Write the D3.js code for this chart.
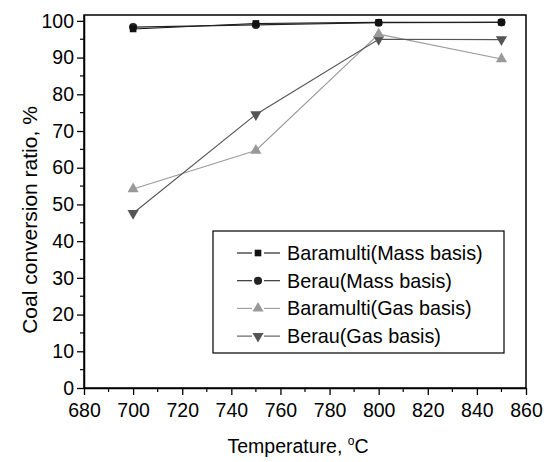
<!DOCTYPE html>
<html>
<head>
<meta charset="utf-8">
<script src="https://cdn.jsdelivr.net/npm/d3@7"></script>
<style>
  body { margin: 0; background: #fff; }
  svg { font-family: "Liberation Sans", Arial, sans-serif; }
</style>
</head>
<body>
<svg id="chart" width="554" height="462"></svg>
<script>
// data
const temps = [700, 750, 800, 850];
const baramultiMass = [97.8, 99.3, 99.6, 99.6];
const berauMass = [98.3, 98.9, 99.5, 99.6];
const baramultiGas = [54.2, 64.7, 96.4, 89.6];
const berauGas = [47.6, 74.5, 95.0, 94.9];
const xTicks = [680, 700, 720, 740, 760, 780, 800, 820, 840, 860];
const yTicks = [0, 10, 20, 30, 40, 50, 60, 70, 80, 90, 100];

const series = [
    { name: "Baramulti(Mass basis)", values: baramultiMass, color: "#111", symbol: d3.symbolSquare, size: 44, rot: 0 },
    { name: "Berau(Mass basis)", values: berauMass, color: "#222", symbol: d3.symbolCircle, size: 52, rot: 0 },
    { name: "Baramulti(Gas basis)", values: baramultiGas, color: "#999", symbol: d3.symbolTriangle, size: 54, rot: 0 },
    { name: "Berau(Gas basis)", values: berauGas, color: "#555", symbol: d3.symbolTriangle, size: 54, rot: 180 }
];

const margin = { top: 15, right: 28, bottom: 74, left: 84 };
const width = 554 - margin.left - margin.right;
const height = 462 - margin.top - margin.bottom;

const svg = d3.select("#chart")
    .append("g")
    .attr("transform", `translate(${margin.left},${margin.top})`);

const x = d3.scaleLinear().domain([680, 860]).range([0, width]);
const y = d3.scaleLinear().domain([0, 101.6]).range([height, 0]);

// frame
svg.append("rect")
    .attr("width", width).attr("height", height)
    .attr("fill", "none").attr("stroke", "#000").attr("stroke-width", 1.5);

// minor ticks
const minorX = d3.range(690, 860, 20);
const minorY = d3.range(5, 101, 10);
svg.append("g").selectAll("line").data(minorX).enter().append("line")
    .attr("x1", d => x(d)).attr("x2", d => x(d))
    .attr("y1", height).attr("y2", height + 4)
    .attr("stroke", "#000").attr("stroke-width", 1.2);
svg.append("g").selectAll("line").data(minorY).enter().append("line")
    .attr("y1", d => y(d)).attr("y2", d => y(d))
    .attr("x1", 0).attr("x2", -4)
    .attr("stroke", "#000").attr("stroke-width", 1.2);

// axes
const xAxis = svg.append("g")
    .attr("transform", `translate(0,${height})`)
    .call(d3.axisBottom(x).tickValues(xTicks).tickSize(7).tickPadding(8).tickSizeOuter(0));
const yAxis = svg.append("g")
    .call(d3.axisLeft(y).tickValues(yTicks).tickSize(7).tickPadding(3).tickSizeOuter(0));
[xAxis, yAxis].forEach(a => {
    a.select(".domain").attr("stroke-width", 1.5);
    a.selectAll(".tick line").attr("stroke-width", 1.3);
    a.selectAll(".tick text").attr("font-size", 19.5).attr("fill", "#000")
        .attr("font-family", "Liberation Sans, Arial, sans-serif");
});

// lines and markers
const line = d3.line().x((d, i) => x(temps[i])).y(d => y(d));
series.forEach(s => {
    svg.append("path")
        .datum(s.values)
        .attr("d", line)
        .attr("fill", "none")
        .attr("stroke", s.color)
        .attr("stroke-width", 1.1);
});
// draw markers back to front so the squares end up on top
series.slice().reverse().forEach(s => {
    svg.append("g").selectAll("path").data(s.values).enter().append("path")
        .attr("d", d3.symbol().type(s.symbol).size(s.size))
        .attr("transform", (d, i) => `translate(${x(temps[i])},${y(d)}) rotate(${s.rot})`)
        .attr("fill", s.color);
});

// legend
const legend = svg.append("g").attr("transform", "translate(129,216)");
legend.append("rect")
    .attr("width", 291).attr("height", 122)
    .attr("fill", "#fff").attr("stroke", "#000").attr("stroke-width", 1.2);
series.forEach((s, i) => {
    const row = legend.append("g").attr("transform", `translate(0,${22 + i * 27.7})`);
    row.append("line").attr("x1", 24).attr("x2", 39).attr("stroke", s.color).attr("stroke-width", 1.1);
    row.append("line").attr("x1", 51).attr("x2", 67).attr("stroke", s.color).attr("stroke-width", 1.1);
    row.append("path")
        .attr("d", d3.symbol().type(s.symbol).size(s.size))
        .attr("transform", `translate(45,0) rotate(${s.rot})`)
        .attr("fill", s.color);
    row.append("text")
        .attr("x", 74).attr("y", 7)
        .attr("font-size", 19.8)
        .text(s.name);
});

// axis titles
svg.append("text")
    .attr("x", 214).attr("y", height + 65)
    .attr("text-anchor", "middle")
    .attr("font-size", 19.5)
    .call(t => {
        t.append("tspan").text("Temperature, ");
        t.append("tspan").attr("font-size", 12).attr("dy", -8).text("o");
        t.append("tspan").attr("dy", 8).text("C");
    });
svg.append("text")
    .attr("transform", `translate(-47,205) rotate(-90)`)
    .attr("text-anchor", "middle")
    .attr("font-size", 21)
    .text("Coal conversion ratio, %");
</script>
</body>
</html>
